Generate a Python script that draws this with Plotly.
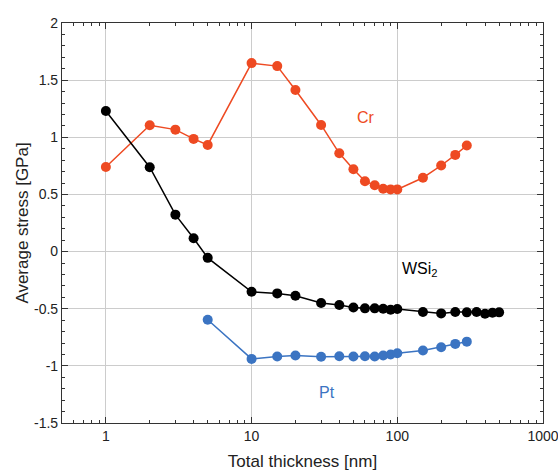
import plotly.graph_objects as go

# Total thickness [nm] and average stress [GPa] per film system
cr_thickness = [1, 2, 3, 4, 5, 10, 15, 20, 30, 40, 50, 60, 70, 80, 90, 100, 150, 200, 250, 300]
cr_stress = [0.74, 1.105, 1.067, 0.986, 0.933, 1.649, 1.623, 1.414, 1.108, 0.86, 0.72,
             0.616, 0.58, 0.55, 0.544, 0.544, 0.646, 0.753, 0.846, 0.928]

wsi2_thickness = [1, 2, 3, 4, 5, 10, 15, 20, 30, 40, 50, 60, 70, 80, 90, 100,
                  150, 200, 250, 300, 350, 400, 450, 500]
wsi2_stress = [1.23, 0.738, 0.323, 0.117, -0.055, -0.352, -0.366, -0.387, -0.45, -0.468,
               -0.489, -0.497, -0.497, -0.5, -0.509, -0.503, -0.529, -0.541, -0.529,
               -0.532, -0.529, -0.544, -0.535, -0.532]

pt_thickness = [5, 10, 15, 20, 30, 40, 50, 60, 70, 80, 90, 100, 150, 200, 250, 300]
pt_stress = [-0.597, -0.939, -0.918, -0.91, -0.921, -0.916, -0.918, -0.916, -0.918,
             -0.91, -0.9, -0.89, -0.866, -0.837, -0.808, -0.788]

x_ticks = [1, 10, 100, 1000]
x_ticktext = ["1", "10", "100", "1000"]
x_minor = [m * 10 ** e for e in range(-1, 3) for m in range(2, 10) if 0.5 <= m * 10 ** e <= 1000]
y_ticks = [-1.5, -1, -0.5, 0, 0.5, 1, 1.5, 2]
y_ticktext = ["-1.5", "-1", "-0.5", "0", "0.5", "1", "1.5", "2"]

RED = "#ee4a22"
BLUE = "#3b74c2"
BLACK = "#000000"

fig = go.Figure()
for xs, ys, color, name in [
    (cr_thickness, cr_stress, RED, "Cr"),
    (wsi2_thickness, wsi2_stress, BLACK, "WSi2"),
    (pt_thickness, pt_stress, BLUE, "Pt"),
]:
    fig.add_trace(go.Scatter(
        x=xs, y=ys, mode="lines+markers", name=name,
        line=dict(color=color, width=1.5),
        marker=dict(color=color, size=10),
    ))

font = dict(family="Liberation Sans, Arial, sans-serif", color="#222222")
# Series labels (x in log10 units on the log axis)
fig.add_annotation(x=1.785, y=1.17, xref="x", yref="y", text="Cr", showarrow=False,
                   font=dict(font, size=16, color=RED))
fig.add_annotation(x=2.022, y=-0.16, xref="x", yref="y", text="WSi<sub>2</sub>",
                   showarrow=False, xanchor="left",
                   font=dict(font, size=16, color=BLACK))
fig.add_annotation(x=1.52, y=-1.23, xref="x", yref="y", text="Pt", showarrow=False,
                   font=dict(font, size=16, color=BLUE))

axis_common = dict(
    showline=True, linecolor="#333333", linewidth=1.2, mirror="ticks",
    ticks="inside", ticklen=6, tickcolor="#333333",
    showgrid=True, gridcolor="#cccccc", gridwidth=1, zeroline=False,
    tickfont=dict(font, size=14), automargin=False, ticklabeloverflow="allow",
)

fig.update_xaxes(
    type="log", range=[-0.30103, 3],
    tickmode="array", tickvals=x_ticks, ticktext=x_ticktext,
    minor=dict(tickmode="array", tickvals=x_minor, ticks="inside", ticklen=3,
               tickcolor="#333333", showgrid=False),
    title=dict(text="Total thickness [nm]", font=dict(font, size=17), standoff=12),
    **axis_common,
)
fig.update_yaxes(
    range=[-1.5, 2],
    tickmode="array", tickvals=y_ticks, ticktext=y_ticktext,
    minor=dict(dtick=0.1, ticks="inside", ticklen=3, tickcolor="#333333", showgrid=False),
    title=dict(text="Average stress [GPa]", font=dict(font, size=17), standoff=1),
    **axis_common,
)

fig.update_layout(
    width=558, height=472,
    margin=dict(l=62, r=15, t=23, b=49),
    plot_bgcolor="white", paper_bgcolor="white",
    showlegend=False,
    font=font,
)

fig.write_html("out.html")
